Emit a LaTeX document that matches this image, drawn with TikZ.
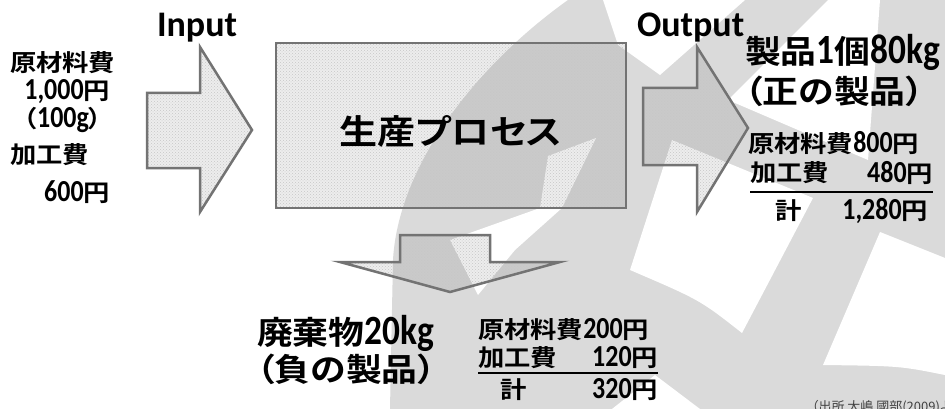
\documentclass[tikz,border=0pt]{standalone}
\usepackage{fontspec}
\setmainfont{Carlito}[UprightFont=* Bold, Scale=1.3, FakeStretch=0.85]
\newfontfamily\lat{Carlito}[UprightFont=* Bold]
\newfontfamily\jpb{Noto Sans CJK JP}[UprightFont=* Bold, FakeStretch=1.12, RawFeature=+palt]
\newfontfamily\jpr{Noto Sans CJK JP}[RawFeature=+palt]
\newcommand\J[1]{{\jpb #1}}
\usetikzlibrary{patterns}
\definecolor{wm}{HTML}{DADADA}
\definecolor{edge}{HTML}{737373}
\begin{document}
\begin{tikzpicture}[x=1pt,y=-1pt,
  blk/.style={draw=edge, line width=2.5pt, line join=miter,
    preaction={fill=black, fill opacity=0.07},
    pattern=crosshatch dots, pattern color=black!22},
  txt/.style={inner sep=0pt, outer sep=0pt, text=black},
  mid/.style={txt, font=\fontsize{23.5}{26}\selectfont},
  big/.style={txt, font=\fontsize{32}{36}\selectfont},
  lbl/.style={txt, font=\lat\fontsize{36}{40}\selectfont},
  uline/.style={line width=1.8pt}
]
\useasboundingbox (0,0) rectangle (945,409);
\fill[white] (0,0) rectangle (945,409);
% watermark
\fill[wm] (568,0) .. controls (470,70) and (398,170) .. (393,260) -- (390,409) -- (945,409) -- (945,0) -- cycle;
\fill[white] (603,0) -- (745,0) -- (660,75) -- (618,45) -- cycle;
\fill[white] (828,0) -- (880,0) -- (868,160) -- (728,100) -- cycle;
\fill[white] (672,140) -- (813,198) -- (742,333) .. controls (700,300) .. (630,270) -- cycle;
\fill[white] (880,232) -- (945,258) -- (945,375) .. controls (900,366) .. (823,365) -- cycle;
\fill[white] (596,138) -- (548,156) -- (540,208) -- (450,240) -- (478,295) -- (515,250) -- (562,208) -- cycle;
\fill[white] (612,409) -- (655,375) -- (700,409) -- cycle;
% shapes
\draw[blk] (276,43) rectangle (626,208);
\draw[blk] (147,93) -- (200,93) -- (200,47) -- (252,130) -- (200,212) -- (200,168) -- (147,168) -- cycle;
\draw[blk] (643,88) -- (697,88) -- (697,47) -- (748,128) -- (697,212) -- (697,165) -- (643,165) -- cycle;
\draw[blk] (400,235) -- (490,235) -- (490,262) -- (560,262) -- (450,292) -- (340,262) -- (400,262) -- cycle;
% left texts
\node[mid, anchor=west] (rm) at (10,63) {\J{原材料費}};
\node[mid, anchor=east] (rmv) at (110,92) {1,000\J{円}};
\node[mid] (rmq) at (63,120) {\J{（}100g\J{）}};
\node[mid, anchor=west] (pc) at (10,155) {\J{加工費}};
\node[mid, anchor=east] (pcv) at (110,192) {600\J{円}};
\node[lbl, anchor=base west] (in) at (157,37) {Input};
\node[lbl, anchor=base west] (out) at (637,37) {Output};
\node[txt, font=\fontsize{34}{36}\selectfont] (pt) at (451,131) {\J{生産プロセス}};
% right texts
\node[big, anchor=west] (p1) at (745,52) {\J{製品}1\J{個}80kg};
\node[big, anchor=west] (p2) at (745,91) {\J{（正の製品）}};
\node[mid, anchor=west] (p3) at (748,143) {\J{原材料費}800\J{円}};
\node[mid, anchor=west] (p4) at (750,173) {\J{加工費}};
\node[mid, anchor=east] (p4v) at (933,173) {480\J{円}};
\coordinate (u1a) at (750,192); \coordinate (u1b) at (933,192);
\draw[uline] (u1a) -- (u1b);
\node[mid, anchor=west] (p5) at (775,211) {\J{計}};
\node[mid, anchor=east] (p5v) at (928,211) {1,280\J{円}};
% bottom texts
\node[big, anchor=west] (w1) at (257,333) {\J{廃棄物}20kg};
\node[big, anchor=west] (w2) at (257,369) {\J{（負の製品）}};
\node[mid, anchor=west] (w3) at (478,330) {\J{原材料費}200\J{円}};
\node[mid, anchor=west] (w4) at (478,358) {\J{加工費}};
\node[mid, anchor=east] (w4v) at (658,358) {120\J{円}};
\coordinate (u2a) at (478,373); \coordinate (u2b) at (658,373);
\draw[uline] (u2a) -- (u2b);
\node[mid, anchor=west] (w5) at (500,390) {\J{計}};
\node[mid, anchor=east] (w5v) at (658,390) {320\J{円}};
\node[txt, anchor=base west, font=\fontsize{13}{14}\selectfont, text=black!75] (src) at (812,411) {\jpr （出所 大嶋 國部(2009)より};
\end{tikzpicture}
\end{document}
